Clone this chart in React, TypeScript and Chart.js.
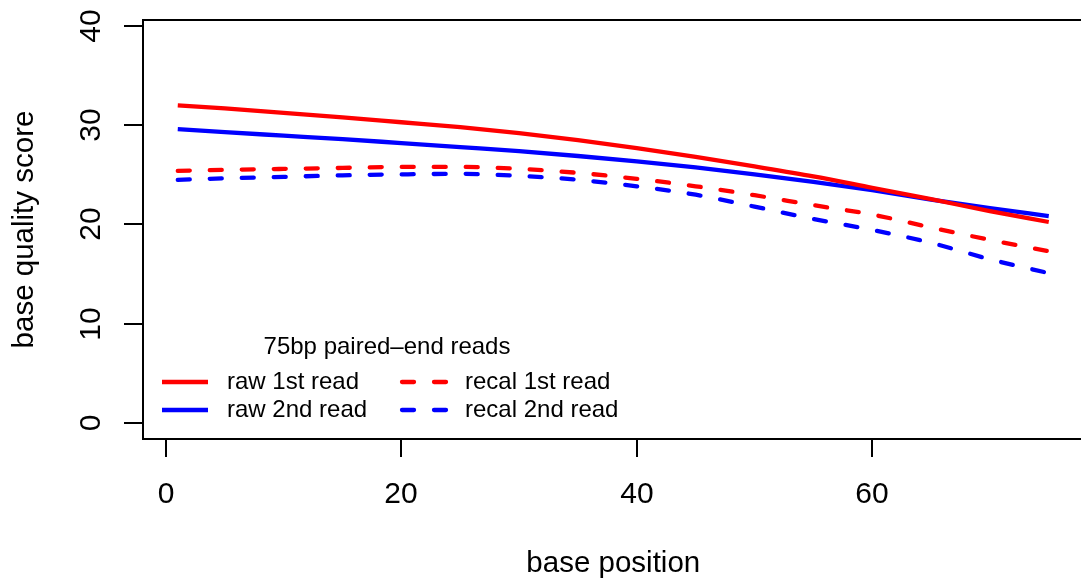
import React, { useEffect, useRef } from "react";
import { Chart, registerables } from "chart.js";

Chart.register(...registerables);

const positions = [1, 5, 10, 15, 20, 25, 30, 35, 40, 45, 50, 55, 60, 65, 70, 75];
const raw1st = [32.0, 31.7, 31.25, 30.8, 30.3, 29.8, 29.2, 28.5, 27.7, 26.8, 25.85, 24.85, 23.7, 22.55, 21.35, 20.25];
const raw2nd = [29.6, 29.3, 28.95, 28.6, 28.2, 27.8, 27.4, 26.9, 26.35, 25.75, 25.05, 24.3, 23.45, 22.5, 21.65, 20.85];
const recal1st = [25.4, 25.5, 25.6, 25.7, 25.8, 25.8, 25.6, 25.2, 24.6, 23.85, 22.95, 21.95, 21.0, 19.7, 18.45, 17.3];
const recal2nd = [24.5, 24.65, 24.8, 24.95, 25.05, 25.1, 24.9, 24.5, 23.85, 23.0, 21.8, 20.55, 19.45, 18.15, 16.5, 15.1];

const xTicks = [0, 20, 40, 60];
const yTicks = [0, 10, 20, 30, 40];

const legendTitle = "75bp paired\u2013end reads";
const seriesNames = ["raw 1st read", "raw 2nd read", "recal 1st read", "recal 2nd read"];
const xTitle = "base position";
const yTitle = "base quality score";

const FONT = '"Liberation Sans", Arial, Helvetica, sans-serif';
const RED = "#FF0000";
const BLUE = "#0000FF";
const DASH = [12, 20];

const framePlugin = {
  id: "rframe",
  afterDraw(chart: any) {
    const { ctx, chartArea, scales } = chart;
    const xs = scales.x;
    const ys = scales.y;
    const { left, top, right, bottom } = chartArea;
    ctx.save();
    ctx.strokeStyle = "#000";
    ctx.lineWidth = 2;
    ctx.lineCap = "butt";
    // box (right edge off canvas)
    ctx.beginPath();
    ctx.moveTo(right + 5, top);
    ctx.lineTo(left, top);
    ctx.lineTo(left, bottom);
    ctx.lineTo(right + 5, bottom);
    ctx.stroke();
    // y ticks
    ctx.fillStyle = "#000";
    ctx.font = `30px ${FONT}`;
    for (const v of yTicks) {
      const py = Math.round(ys.getPixelForValue(v));
      ctx.beginPath();
      ctx.moveTo(left - 19, py);
      ctx.lineTo(left, py);
      ctx.stroke();
      ctx.save();
      ctx.translate(100, py);
      ctx.rotate(-Math.PI / 2);
      ctx.textAlign = "center";
      ctx.textBaseline = "alphabetic";
      ctx.fillText(String(v), 0, 0);
      ctx.restore();
    }
    // x ticks
    for (const v of xTicks) {
      const px = Math.round(xs.getPixelForValue(v));
      ctx.beginPath();
      ctx.moveTo(px, bottom);
      ctx.lineTo(px, bottom + 18);
      ctx.stroke();
      ctx.textAlign = "center";
      ctx.textBaseline = "alphabetic";
      ctx.fillText(String(v), px, 503);
    }
    // axis titles
    ctx.font = `29.5px ${FONT}`;
    const plotCx = (left + xs.getPixelForValue(77.96)) / 2;
    ctx.textAlign = "center";
    ctx.fillText(xTitle, plotCx, 572);
    ctx.save();
    ctx.translate(33, (top + bottom) / 2);
    ctx.rotate(-Math.PI / 2);
    ctx.fillText(yTitle, 0, 0);
    ctx.restore();

    // legend
    ctx.font = `24px ${FONT}`;
    ctx.textBaseline = "middle";
    ctx.textAlign = "center";
    ctx.fillText(legendTitle, 387, 347);
    ctx.textAlign = "left";
    const items = [
      { x0: 162, x1: 208, tx: 227, y: 382, color: RED, dash: [] as number[], label: seriesNames[0] },
      { x0: 162, x1: 208, tx: 227, y: 410, color: BLUE, dash: [] as number[], label: seriesNames[1] },
      { x0: 402, x1: 446, tx: 465, y: 382, color: RED, dash: DASH, label: seriesNames[2] },
      { x0: 402, x1: 446, tx: 465, y: 410, color: BLUE, dash: DASH, label: seriesNames[3] },
    ];
    for (const it of items) {
      ctx.save();
      ctx.strokeStyle = it.color;
      ctx.lineWidth = 4.3;
      ctx.lineCap = it.dash.length ? "round" : "butt";
      ctx.setLineDash(it.dash);
      ctx.beginPath();
      ctx.moveTo(it.x0, it.y);
      ctx.lineTo(it.x1, it.y);
      ctx.stroke();
      ctx.restore();
      ctx.fillText(it.label, it.tx, it.y);
    }
    ctx.restore();
  },
};

function mk(values: number[]) {
  return positions.map((x, i) => ({ x, y: values[i] }));
}

export default function App() {
  const ref = useRef<HTMLCanvasElement | null>(null);
  useEffect(() => {
    if (!ref.current) return;
    const base = {
      borderWidth: 4.3,
      pointRadius: 0,
      fill: false,
      cubicInterpolationMode: "monotone" as const,
    };
    const chart = new Chart(ref.current, {
      type: "line",
      data: {
        datasets: [
          { ...base, label: seriesNames[2], data: mk(recal1st), borderColor: RED, borderDash: DASH, borderCapStyle: "round" },
          { ...base, label: seriesNames[3], data: mk(recal2nd), borderColor: BLUE, borderDash: DASH, borderCapStyle: "round" },
          { ...base, label: seriesNames[0], data: mk(raw1st), borderColor: RED, borderCapStyle: "butt" },
          { ...base, label: seriesNames[1], data: mk(raw2nd), borderColor: BLUE, borderCapStyle: "butt" },
        ],
      },
      options: {
        responsive: false,
        animation: false,
        layout: { padding: { top: 20, left: 0, right: 0, bottom: 0 } },
        plugins: { legend: { display: false }, tooltip: { enabled: false }, title: { display: false } },
        scales: {
          x: {
            type: "linear",
            min: -1.954,
            max: 77.74,
            grid: { display: false },
            border: { display: false },
            ticks: { display: false },
            afterFit: (s: any) => { s.height = 141; },
          },
          y: {
            type: "linear",
            min: -1.61,
            max: 40.6,
            grid: { display: false },
            border: { display: false },
            ticks: { display: false },
            afterFit: (s: any) => { s.width = 143; },
          },
        },
      },
      plugins: [framePlugin],
    });
    return () => chart.destroy();
  }, []);
  return (
    <div style={{ position: "fixed", left: 0, top: 0, width: 1081, height: 580, background: "#fff" }}>
      <canvas ref={ref} width={1081} height={580} style={{ display: "block", width: 1081, height: 580 }} />
    </div>
  );
}
